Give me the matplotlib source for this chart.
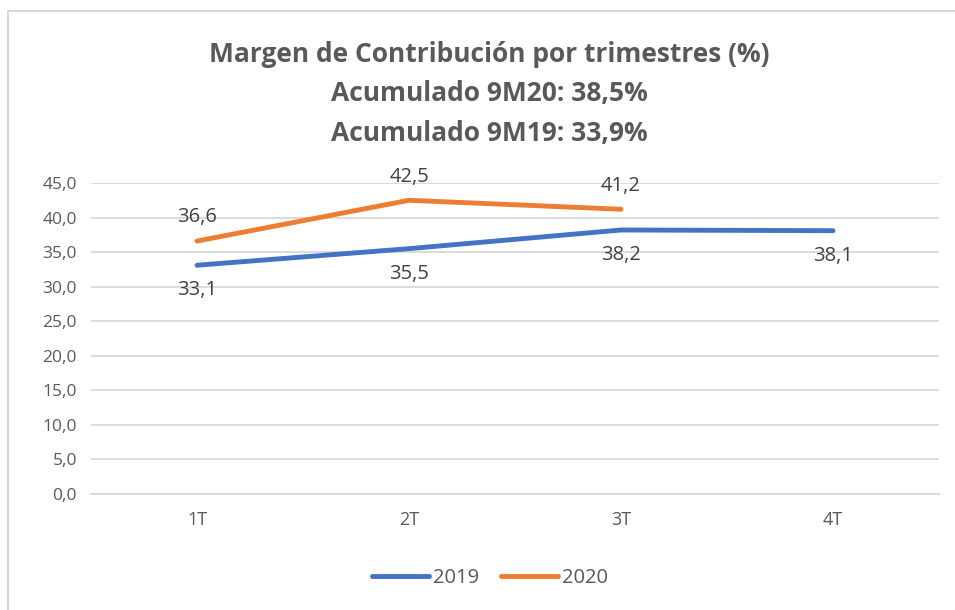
import matplotlib.pyplot as plt
from matplotlib.patches import Rectangle

trimestres = ['1T', '2T', '3T', '4T']
valores_2019 = [33.1, 35.5, 38.2, 38.1]
valores_2020 = [36.6, 42.5, 41.2]
yticks = [0, 5, 10, 15, 20, 25, 30, 35, 40, 45]

titulo = 'Margen de Contribución por trimestres (%)\nAcumulado 9M20: 38,5%\nAcumulado 9M19: 33,9%'

gris = '#595959'
azul = '#4472C4'
naranja = '#ED7D31'

plt.rcParams['font.family'] = ['Open Sans', 'DejaVu Sans']

fig = plt.figure(figsize=(9.55, 6.1), dpi=100)
# borde del grafico
fig.patches.append(Rectangle((8/955, -0.05), 1.1, 1 - 11/610 + 0.05, transform=fig.transFigure,
                             fill=False, edgecolor='#D0D0D0', lw=1.2))

ax = fig.add_axes([91/955, 1 - 494/610, 848/955, 311/610])
x = list(range(len(trimestres)))
ax.plot(x, valores_2019, color=azul, lw=3.5, solid_capstyle='round', label='2019')
ax.plot(x[:len(valores_2020)], valores_2020, color=naranja, lw=3.5, solid_capstyle='round', label='2020')

for xi, v in zip(x, valores_2019):
    ax.annotate(f'{v:.1f}'.replace('.', ','), (xi, v), xytext=(0, -18), textcoords='offset points',
                ha='center', va='center', fontsize=14.5, color='#404040')
for xi, v in zip(x, valores_2020):
    ax.annotate(f'{v:.1f}'.replace('.', ','), (xi, v), xytext=(0, 17), textcoords='offset points',
                ha='center', va='center', fontsize=14.5, color='#404040')

ax.set_xlim(-0.5, len(trimestres) - 0.5)
ax.set_ylim(0, 45)
ax.set_yticks(yticks)
ax.set_yticklabels([f'{t:.1f}'.replace('.', ',') for t in yticks], fontsize=12.5, color=gris)
ax.set_xticks(x)
ax.set_xticklabels(trimestres, fontsize=13, color=gris)
ax.tick_params(length=0, pad=10)
ax.tick_params(axis='x', pad=12)
ax.grid(axis='y', color='#D9D9D9', lw=1.3)
ax.set_axisbelow(True)
for s in ['top', 'right', 'left']:
    ax.spines[s].set_visible(False)
ax.spines['bottom'].set_color('#D9D9D9')
ax.spines['bottom'].set_linewidth(1.3)

fig.text(489/955, 1 - 94/610, titulo, ha='center', va='center', fontsize=19, fontweight='bold',
         color=gris, linespacing=1.6)

fig.legend(loc='center', bbox_to_anchor=(490/955, 1 - 578/610), ncol=2, frameon=False,
           fontsize=14.5, handlelength=2.8, columnspacing=1.1, handletextpad=0.2, labelcolor=gris)

plt.savefig('out.png')
